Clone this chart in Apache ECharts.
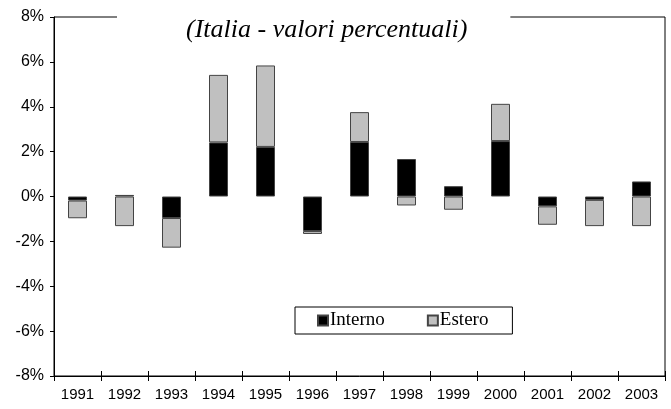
<!DOCTYPE html>
<html>
<head>
<meta charset="utf-8">
<script src="https://cdn.jsdelivr.net/npm/echarts@6/dist/echarts.min.js"></script>
<style>html,body{margin:0;padding:0;background:#fff}#c{width:671px;height:409px}</style>
</head>
<body>
<div id="c"></div>
<script>
var years = ['1991','1992','1993','1994','1995','1996','1997','1998','1999','2000','2001','2002','2003'];
var interno = [-0.18, 0.07, -0.96, 2.41, 2.21, -1.54, 2.43, 1.67, 0.46, 2.47, -0.44, -0.15, 0.67];
var estero = [-0.79, -1.32, -1.32, 3.01, 3.63, -0.13, 1.33, -0.40, -0.59, 1.66, -0.82, -1.17, -1.32];
var yTicks = {min: -8, max: 8, interval: 2};

var chart = echarts.init(document.getElementById('c'), null, {renderer: 'canvas'});
chart.setOption({
  animation: false,
  backgroundColor: '#fff',
  title: {
    text: '(Italia - valori percentuali)',
    left: 117, top: 13,
    backgroundColor: '#fff',
    padding: [3, 43, 3, 69],
    textStyle: {fontFamily: 'Liberation Serif', fontStyle: 'italic', fontWeight: 'normal', fontSize: 26, lineHeight: 28, color: '#000'}
  },
  grid: {left: 54, right: 6, top: 17, bottom: 33, show: true, borderColor: '#000', borderWidth: 1, backgroundColor: 'transparent'},
  legend: {
    data: ['Interno', 'Estero'],
    left: 295, top: 307,
    orient: 'horizontal',
    itemWidth: 10, itemHeight: 10, itemGap: 42,
    padding: [4, 24, 4, 22],
    borderColor: '#000', borderWidth: 1, backgroundColor: '#fff',
    icon: 'rect',
    textStyle: {fontFamily: 'Liberation Serif', fontSize: 19, lineHeight: 19, color: '#000', padding: [0, 0, 0, -3]}
  },
  xAxis: [{
    type: 'category', data: years, position: 'bottom',
    axisLine: {onZero: false, lineStyle: {color: '#000', width: 1}},
    axisTick: {show: true, alignWithLabel: false, length: 5, lineStyle: {color: '#000'}},
    axisLabel: {fontFamily: 'Liberation Sans', fontSize: 15, color: '#000', margin: 11, interval: 0}
  }, {
    type: 'category', data: years, position: 'bottom', gridIndex: 0,
    axisLine: {show: false, onZero: false},
    axisTick: {show: true, inside: true, length: 5, lineStyle: {color: '#000'}},
    axisLabel: {show: false}
  }],
  yAxis: {
    type: 'value', min: yTicks.min, max: yTicks.max, interval: yTicks.interval,
    axisLine: {show: true, lineStyle: {color: '#000'}},
    axisTick: {show: true, length: 4, lineStyle: {color: '#000'}},
    splitLine: {show: false},
    axisLabel: {formatter: '{value}%', fontFamily: 'Liberation Sans', fontSize: 16, color: '#000', margin: 10}
  },
  series: [{
    name: 'Interno', type: 'bar', stack: 'tot', data: interno, barWidth: 19,
    itemStyle: {color: '#000', borderColor: '#444', borderWidth: 1}
  }, {
    name: 'Estero', type: 'bar', stack: 'tot', data: estero, barWidth: 19,
    itemStyle: {color: '#c0c0c0', borderColor: '#444', borderWidth: 1}
  }]
});
</script>
</body>
</html>
